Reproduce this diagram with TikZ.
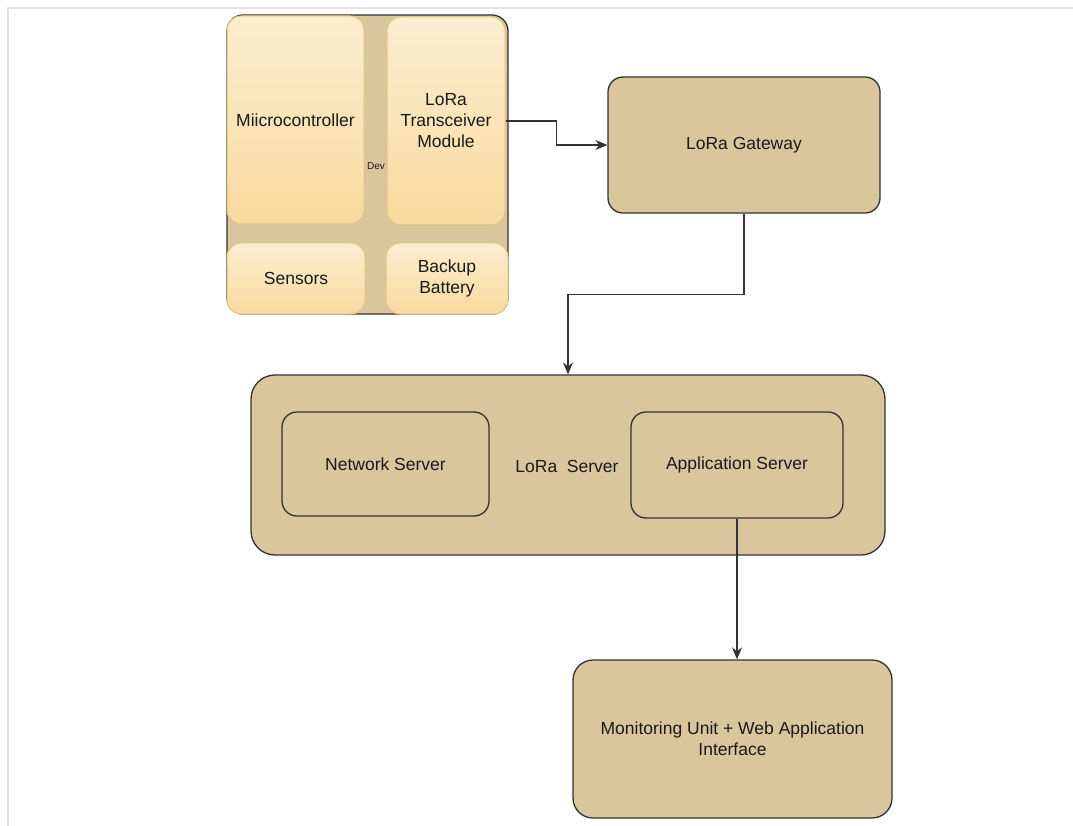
\documentclass[tikz,border=0pt]{standalone}
\usepackage{fontspec}
\setmainfont{Liberation Sans}
\usetikzlibrary{arrows.meta,calc}
\definecolor{tan}{HTML}{DAC69D}
\definecolor{edge}{HTML}{333333}
\definecolor{cream1}{HTML}{FCEDD0}
\definecolor{cream2}{HTML}{F8DA9E}
\definecolor{goldline}{HTML}{E2C482}
\definecolor{frame}{HTML}{E2E2E2}
\definecolor{txt}{HTML}{1A1A1A}
\tikzset{
  lbl/.style={font=\fontsize{17.5}{21}\selectfont, text=txt, align=center, inner sep=0pt},
  tanbox/.style={lbl, draw=edge, fill=tan, line width=1.3pt, rounded corners=15pt},
  part/.style={lbl, draw=goldline, top color=cream1, bottom color=cream2, line width=1pt, rounded corners=14pt},
  arr/.style={draw=edge, line width=1.2pt, -{Stealth[length=12pt,width=10pt,inset=4pt]}}
}
\begin{document}
\begin{tikzpicture}[x=1pt,y=-1pt]
\useasboundingbox (0,0) rectangle (1073,826);
\fill[white] (0,0) rectangle (1073,826);
\draw[frame, line width=2pt] (8,826) -- (8,8) -- (1073,8);

% device container
\node[tanbox, minimum width=281pt, minimum height=299pt, rounded corners=16pt] (dev) at (367.5,164.5) {};
\node[part, minimum width=137pt, minimum height=208pt] (mcu) at (295.5,120) {Miicrocontroller};
\node[part, minimum width=118pt, minimum height=208pt] (trx) at (446,121) {LoRa\\Transceiver\\Module};
\node[part, minimum width=138pt, minimum height=71pt] (sens) at (296,278.5) {Sensors};
\node[part, minimum width=122pt, minimum height=71pt] (batt) at (447,278.5) {Backup\\Battery};
\node[lbl, font=\fontsize{10}{12}\selectfont] (devlbl) at (376,166) {Dev};

% gateway
\node[tanbox, minimum width=272pt, minimum height=136pt] (gw) at (744,145) {LoRa Gateway};

% server
\node[tanbox, minimum width=634pt, minimum height=180pt, rounded corners=24pt] (srv) at (568,465) {};
\node[lbl] (srvlbl) at (567,466) {LoRa\ \ Server};
\node[tanbox, minimum width=207pt, minimum height=104pt] (ns) at (385.5,464) {Network Server};
\node[tanbox, minimum width=212pt, minimum height=106pt] (as) at (737,465) {Application Server};

% monitoring
\node[tanbox, minimum width=319pt, minimum height=158pt, rounded corners=20pt] (mon) at (732.5,739) {Monitoring Unit + Web Application\\Interface};

% connectors
\draw[arr] (trx.east) -- ++(51,0) |- (gw.west);
\draw[arr] (gw.south) -- ++(0,81) -| (srv.north);
\draw[arr] (as.south) -- (as.south |- mon.north);
\end{tikzpicture}
\end{document}
